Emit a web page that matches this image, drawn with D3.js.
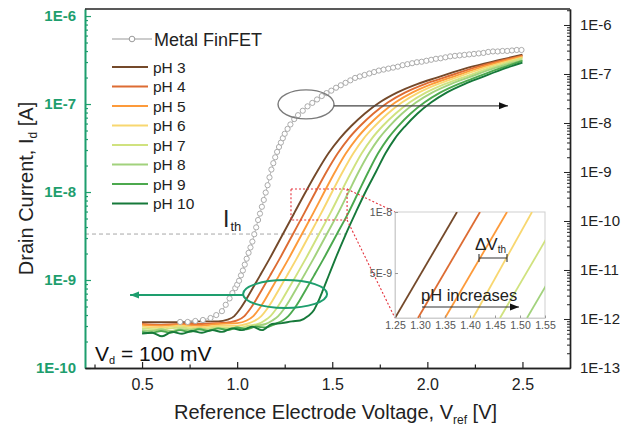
<!DOCTYPE html>
<html>
<head>
<meta charset="utf-8">
<script src="https://cdn.jsdelivr.net/npm/d3@7"></script>
<style>
  body { margin: 0; background: #fff; }
  svg { display: block; font-family: 'Liberation Sans', Arial, sans-serif; }
</style>
</head>
<body>
<svg id="chart" width="622" height="430"></svg>
<script>
// ---- data ----
const phLabels = ['pH 3', 'pH 4', 'pH 5', 'pH 6', 'pH 7', 'pH 8', 'pH 9', 'pH 10'];
const phColors = ['#74492a', '#dd6c33', '#fd9a3a', '#f8d770', '#d0e27f', '#a2d27d', '#4ca94e', '#16793a'];

// V_ref [V] and log10(I_d [A]) for every pH curve (left axis)
const v_pH3 = [0.50, 0.60, 0.70, 0.80, 0.90, 0.95, 0.985, 1.015, 1.045, 1.08, 1.12, 1.17, 1.24, 1.30, 1.36, 1.42, 1.48, 1.54, 1.60, 1.67, 1.75, 1.84, 1.95, 2.05, 2.21, 2.38, 2.50];
const logI_pH3 = [-9.48, -9.48, -9.48, -9.47, -9.47, -9.45, -9.41, -9.33, -9.23, -9.10, -8.95, -8.76, -8.48, -8.24, -8.00, -7.77, -7.56, -7.39, -7.25, -7.11, -6.98, -6.87, -6.77, -6.70, -6.59, -6.50, -6.44];

const v_pH4 = [0.50, 0.60, 0.70, 0.80, 0.90, 0.96, 1.00, 1.038, 1.068, 1.098, 1.133, 1.173, 1.223, 1.293, 1.353, 1.412, 1.470, 1.529, 1.587, 1.646, 1.715, 1.794, 1.882, 1.990, 2.088, 2.243, 2.50];
const logI_pH4 = [-9.50, -9.51, -9.50, -9.50, -9.49, -9.48, -9.46, -9.41, -9.33, -9.23, -9.10, -8.95, -8.76, -8.48, -8.24, -8.00, -7.77, -7.56, -7.39, -7.25, -7.11, -6.98, -6.87, -6.77, -6.70, -6.59, -6.45];

const v_pH5 = [0.50, 0.60, 0.70, 0.80, 0.90, 1.00, 1.05, 1.085, 1.115, 1.145, 1.18, 1.22, 1.27, 1.34, 1.40, 1.458, 1.515, 1.572, 1.629, 1.687, 1.755, 1.833, 1.920, 2.026, 2.121, 2.273, 2.50];
const logI_pH5 = [-9.51, -9.52, -9.51, -9.52, -9.50, -9.49, -9.46, -9.41, -9.33, -9.23, -9.10, -8.95, -8.76, -8.48, -8.24, -8.00, -7.77, -7.56, -7.39, -7.25, -7.11, -6.98, -6.87, -6.77, -6.70, -6.59, -6.46];

const v_pH6 = [0.50, 0.60, 0.70, 0.80, 0.90, 1.00, 1.05, 1.095, 1.127, 1.157, 1.187, 1.222, 1.262, 1.312, 1.382, 1.442, 1.499, 1.555, 1.611, 1.666, 1.724, 1.791, 1.868, 1.954, 2.058, 2.151, 2.299, 2.50];
const logI_pH6 = [-9.53, -9.54, -9.52, -9.54, -9.52, -9.52, -9.50, -9.46, -9.41, -9.33, -9.23, -9.10, -8.95, -8.76, -8.48, -8.24, -8.00, -7.77, -7.56, -7.39, -7.25, -7.11, -6.98, -6.87, -6.77, -6.70, -6.59, -6.47];

const v_pH7 = [0.50, 0.60, 0.70, 0.80, 0.90, 1.00, 1.06, 1.11, 1.145, 1.175, 1.205, 1.235, 1.27, 1.31, 1.36, 1.43, 1.49, 1.546, 1.601, 1.655, 1.709, 1.765, 1.832, 1.908, 1.992, 2.094, 2.185, 2.330, 2.50];
const logI_pH7 = [-9.55, -9.56, -9.54, -9.56, -9.54, -9.55, -9.52, -9.50, -9.46, -9.41, -9.33, -9.23, -9.10, -8.95, -8.76, -8.48, -8.24, -8.00, -7.77, -7.56, -7.39, -7.25, -7.11, -6.98, -6.87, -6.77, -6.70, -6.59, -6.48];

const v_pH8 = [0.50, 0.55, 0.60, 0.65, 0.70, 0.75, 0.80, 0.85, 0.90, 0.95, 1.00, 1.05, 1.10, 1.15, 1.185, 1.216, 1.246, 1.276, 1.311, 1.351, 1.401, 1.471, 1.531, 1.586, 1.639, 1.693, 1.746, 1.801, 1.866, 1.942, 2.025, 2.126, 2.214, 2.356, 2.50];
const logI_pH8 = [-9.57, -9.58, -9.56, -9.58, -9.56, -9.57, -9.55, -9.57, -9.55, -9.56, -9.54, -9.55, -9.52, -9.50, -9.46, -9.41, -9.33, -9.23, -9.10, -8.95, -8.76, -8.48, -8.24, -8.00, -7.77, -7.56, -7.39, -7.25, -7.11, -6.98, -6.87, -6.77, -6.70, -6.59, -6.50];

const v_pH9 = [0.50, 0.55, 0.60, 0.65, 0.70, 0.75, 0.80, 0.85, 0.90, 0.95, 1.00, 1.05, 1.10, 1.15, 1.20, 1.24, 1.269, 1.299, 1.329, 1.364, 1.404, 1.454, 1.524, 1.584, 1.638, 1.690, 1.741, 1.793, 1.847, 1.911, 1.986, 2.067, 2.166, 2.252, 2.389, 2.50];
const logI_pH9 = [-9.59, -9.60, -9.58, -9.60, -9.57, -9.59, -9.56, -9.58, -9.55, -9.57, -9.54, -9.56, -9.53, -9.54, -9.50, -9.46, -9.41, -9.33, -9.23, -9.10, -8.95, -8.76, -8.48, -8.24, -8.00, -7.77, -7.56, -7.39, -7.25, -7.11, -6.98, -6.87, -6.77, -6.70, -6.59, -6.51];

const v_pH10 = [0.50, 0.553, 0.605, 0.658, 0.71, 0.763, 0.815, 0.868, 0.921, 0.973, 1.026, 1.078, 1.131, 1.183, 1.236, 1.288, 1.331, 1.373, 1.404, 1.425, 1.452, 1.483, 1.52, 1.567, 1.626, 1.679, 1.730, 1.780, 1.830, 1.884, 1.947, 2.021, 2.101, 2.198, 2.281, 2.415, 2.50];
const logI_pH10 = [-9.61, -9.60, -9.64, -9.59, -9.61, -9.58, -9.60, -9.57, -9.59, -9.55, -9.57, -9.53, -9.57, -9.50, -9.49, -9.47, -9.46, -9.41, -9.34, -9.25, -9.11, -8.94, -8.74, -8.50, -8.22, -7.98, -7.77, -7.56, -7.39, -7.25, -7.11, -6.98, -6.87, -6.77, -6.70, -6.59, -6.53];

// Metal FinFET (right axis)
const metalV = [0.70, 0.74, 0.78, 0.82, 0.86, 0.89, 0.92, 0.94, 0.96, 0.975, 0.99, 1.00,
  1.01, 1.02, 1.03, 1.04, 1.05, 1.06, 1.07, 1.08, 1.09, 1.10, 1.11, 1.12, 1.13, 1.14, 1.15,
  1.16, 1.17, 1.18, 1.19, 1.20, 1.21, 1.22, 1.23, 1.24, 1.25, 1.265, 1.28, 1.30, 1.32, 1.345,
  1.37, 1.395, 1.42, 1.445, 1.47, 1.495, 1.52, 1.545, 1.57, 1.595, 1.62, 1.645, 1.67, 1.695,
  1.72, 1.745, 1.77, 1.795, 1.82, 1.845, 1.87, 1.895, 1.92, 1.945, 1.97, 1.995, 2.02, 2.045,
  2.07, 2.095, 2.12, 2.145, 2.17, 2.195, 2.22, 2.245, 2.27, 2.295, 2.32, 2.345, 2.37, 2.395,
  2.42, 2.445, 2.47, 2.495];
const metalLogI = [-12.06, -12.06, -12.04, -12.02, -11.98, -11.92, -11.84, -11.71, -11.58, -11.47, -11.37, -11.30,
  -11.22, -11.11, -11.01, -10.89, -10.77, -10.65, -10.54, -10.42, -10.27, -10.13, -9.98, -9.85, -9.71, -9.57, -9.42,
  -9.27, -9.11, -8.95, -8.82, -8.70, -8.59, -8.49, -8.40, -8.31, -8.22, -8.12, -8.03, -7.92, -7.84, -7.75,
  -7.66, -7.59, -7.52, -7.45, -7.39, -7.34, -7.28, -7.23, -7.18, -7.13, -7.08, -7.05, -7.02, -6.99,
  -6.96, -6.93, -6.91, -6.89, -6.87, -6.85, -6.82, -6.80, -6.78, -6.76, -6.75, -6.73, -6.71, -6.69,
  -6.68, -6.66, -6.64, -6.63, -6.62, -6.61, -6.60, -6.59, -6.58, -6.57, -6.55, -6.54, -6.54, -6.53,
  -6.53, -6.52, -6.51, -6.51];

// inset: V where each pH line crosses the bottom (3E-9) and top (1E-8) of the inset
const insetVStart = [1.250, 1.296, 1.350, 1.406, 1.460, 1.514, 1.568, 1.622];
const insetVEnd = [1.374, 1.420, 1.474, 1.524, 1.584, 1.638, 1.692, 1.746];
const insetIRange = [3e-9, 1e-8];
const insetTicksX = [1.25, 1.30, 1.35, 1.40, 1.45, 1.50, 1.55];
const insetTicksY = [5e-9, 1e-8];

const xTicks = [0.5, 1.0, 1.5, 2.0, 2.5];
const xMinorTicks = [0.25, 0.75, 1.25, 1.75, 2.25];
const leftDecades = [1e-10, 1e-9, 1e-8, 1e-7, 1e-6];
const rightDecades = [1e-13, 1e-12, 1e-11, 1e-10, 1e-9, 1e-8, 1e-7, 1e-6];

// Ith level and the annotation anchors, in data units
const Ith = 3.33e-9;
const IthEndV = 1.567;
const zoomBox = { v0: 1.283, v1: 1.578, i0: 4.8e-9, i1: 1.08e-8 };
const grayEllipse = { v: 1.362, i: 2.4e-8, arrowV: 2.424 };
const greenEllipse = { v: 1.252, i: 6.93e-10, arrowV: 0.437 };

// ---- layout ----
const W = 622, H = 430;
const M = { l: 85, r: 570, t: 9, b: 368 };
const GREEN = '#1e9e6e';

const svg = d3.select('#chart');
svg.append('rect').attr('width', W).attr('height', H).attr('fill', '#fff');

const x = d3.scaleLinear().domain([0.2, 2.75]).range([M.l, M.r]);
const yL = d3.scaleLog().domain([1e-10, 1.202e-6]).range([M.b, M.t]);
const yR = d3.scaleLog().domain([1e-13, 2.12e-6]).range([M.b, M.t]);

const defs = svg.append('defs');
function marker(id, color) {
  defs.append('marker').attr('id', id)
    .attr('markerUnits', 'userSpaceOnUse')
    .attr('markerWidth', 10).attr('markerHeight', 8)
    .attr('refX', 9).attr('refY', 4).attr('orient', 'auto')
    .append('path').attr('d', 'M0,0.5 L9,4 L0,7.5 Z').attr('fill', color);
}
marker('arrK', '#111');
marker('arrG', GREEN);

const series = phLabels.map((label, i) => {
  const v = [v_pH3, v_pH4, v_pH5, v_pH6, v_pH7, v_pH8, v_pH9, v_pH10][i];
  const lg = [logI_pH3, logI_pH4, logI_pH5, logI_pH6, logI_pH7, logI_pH8, logI_pH9, logI_pH10][i];
  return { label, color: phColors[i], pts: v.map((d, k) => [d, Math.pow(10, lg[k])]) };
});
const metal = metalV.map((d, k) => [d, Math.pow(10, metalLogI[k])]);

// Ith dashed line
svg.append('line')
  .attr('x1', x(0.2)).attr('x2', x(IthEndV))
  .attr('y1', yL(Ith)).attr('y2', yL(Ith))
  .attr('stroke', '#a8a8a8').attr('stroke-width', 1).attr('stroke-dasharray', '4,3');

// pH curves
const lineL = d3.line().curve(d3.curveMonotoneX).x(d => x(d[0])).y(d => yL(d[1]));
svg.append('g').selectAll('path').data(series).join('path')
  .attr('d', d => lineL(d.pts))
  .attr('fill', 'none').attr('stroke', d => d.color).attr('stroke-width', 1.9);

// Metal FinFET
const lineR = d3.line().x(d => x(d[0])).y(d => yR(d[1]));
svg.append('path').attr('d', lineR(metal))
  .attr('fill', 'none').attr('stroke', '#b0b0b0').attr('stroke-width', 0.9);
svg.append('g').selectAll('circle').data(metal).join('circle')
  .attr('cx', d => x(d[0])).attr('cy', d => yR(d[1])).attr('r', 2.6)
  .attr('fill', '#fff').attr('stroke', '#a2a2a2').attr('stroke-width', 0.9);

// ellipses + arrows
const gx = x(grayEllipse.v), gy = yR(grayEllipse.i);
svg.append('ellipse').attr('cx', gx).attr('cy', gy).attr('rx', 28).attr('ry', 14.5)
  .attr('fill', 'none').attr('stroke', '#7a7a7a').attr('stroke-width', 1.4);
svg.append('line').attr('x1', gx + 28).attr('y1', gy + 1.5).attr('x2', x(grayEllipse.arrowV)).attr('y2', gy + 1.5)
  .attr('stroke', '#444').attr('stroke-width', 1.1).attr('marker-end', 'url(#arrK)');

const ex = x(greenEllipse.v), ey = yL(greenEllipse.i);
svg.append('ellipse').attr('cx', ex).attr('cy', ey).attr('rx', 42).attr('ry', 14)
  .attr('fill', 'none').attr('stroke', GREEN).attr('stroke-width', 2);
svg.append('line').attr('x1', ex - 42).attr('y1', ey + 1).attr('x2', x(greenEllipse.arrowV)).attr('y2', ey + 1)
  .attr('stroke', GREEN).attr('stroke-width', 2).attr('marker-end', 'url(#arrG)');

// zoom box
const RED = '#e5323c';
const bx0 = x(zoomBox.v0), bx1 = x(zoomBox.v1), by0 = yL(zoomBox.i1), by1 = yL(zoomBox.i0);
svg.append('rect').attr('x', bx0).attr('y', by0).attr('width', bx1 - bx0).attr('height', by1 - by0)
  .attr('fill', 'none').attr('stroke', RED).attr('stroke-width', 1.1).attr('stroke-dasharray', '2,2');

// inset
const ix = d3.scaleLinear().domain([1.25, 1.55]).range([395, 545]);
const iy = d3.scaleLog().domain(insetIRange).range([318, 212]);
svg.append('line').attr('x1', bx1).attr('y1', by0).attr('x2', ix(1.25)).attr('y2', iy(1e-8))
  .attr('stroke', RED).attr('stroke-width', 1.1).attr('stroke-dasharray', '2,2');
svg.append('line').attr('x1', bx1).attr('y1', by1).attr('x2', ix(1.25)).attr('y2', iy(3e-9))
  .attr('stroke', RED).attr('stroke-width', 1.1).attr('stroke-dasharray', '2,2');

const inset = svg.append('g');
inset.append('rect').attr('x', 395).attr('y', 212).attr('width', 150).attr('height', 106)
  .attr('fill', '#fff').attr('stroke', '#cfcfcf').attr('stroke-width', 1);
defs.append('clipPath').attr('id', 'insetClip')
  .append('rect').attr('x', 395).attr('y', 212).attr('width', 150).attr('height', 106);
inset.append('g').attr('clip-path', 'url(#insetClip)')
  .selectAll('line').data(phColors).join('line')
  .attr('x1', (c, i) => ix(insetVStart[i])).attr('y1', iy(insetIRange[0]))
  .attr('x2', (c, i) => ix(insetVEnd[i])).attr('y2', iy(insetIRange[1]))
  .attr('stroke', c => c).attr('stroke-width', 1.8);

const insetAxL = inset.append('g').attr('transform', 'translate(395,0)')
  .call(d3.axisLeft(iy).tickValues(insetTicksY).tickFormat(d => d === 1e-8 ? '1E-8' : '5E-9')
    .tickSize(-3).tickSizeOuter(0).tickPadding(3));
const insetAxB = inset.append('g').attr('transform', 'translate(0,318)')
  .call(d3.axisBottom(ix).tickValues(insetTicksX).tickFormat(d3.format('.2f'))
    .tickSize(-2.5).tickSizeOuter(0).tickPadding(4));
[insetAxL, insetAxB].forEach(g => {
  g.select('.domain').attr('stroke', '#cfcfcf');
  g.selectAll('.tick line').attr('stroke', '#999');
  g.selectAll('text').attr('fill', '#555').attr('font-size', 10.5)
    .attr('font-family', "'Liberation Sans', Arial, sans-serif");
});

// delta Vth
const dv = inset.append('text').attr('x', 475).attr('y', 250).attr('font-size', 17).attr('fill', '#222');
dv.append('tspan').text('ΔV');
dv.append('tspan').attr('font-size', 10).attr('dy', 3).text('th');
const bl = ix(1.418), br = ix(1.474);
inset.append('path')
  .attr('d', `M${bl},254V262M${bl},258H${br}M${br},254V262`)
  .attr('fill', 'none').attr('stroke', '#333').attr('stroke-width', 1.1);

inset.append('text').attr('x', 421).attr('y', 301).attr('font-size', 16.5).attr('fill', '#222').text('pH increases');
inset.append('line').attr('x1', 422).attr('y1', 307).attr('x2', 519).attr('y2', 307)
  .attr('stroke', '#333').attr('stroke-width', 1.1).attr('marker-end', 'url(#arrK)');

// Ith label
const ith = svg.append('text').attr('x', 223).attr('y', 227).attr('font-size', 23).attr('fill', '#222');
ith.append('tspan').text('I');
ith.append('tspan').attr('font-size', 13).attr('dy', 4).attr('dx', 1).text('th');

// Vd label
const vd = svg.append('text').attr('x', 95).attr('y', 361).attr('font-size', 21).attr('fill', '#111');
vd.append('tspan').text('V');
vd.append('tspan').attr('font-size', 11).attr('dy', 3).text('d');
vd.append('tspan').attr('dy', -3).text(' = 100 mV');

// ---- axes ----
const fmtE = d => '1E' + Math.round(Math.log10(d));
const minorOf = (decades, scale) => {
  const [lo, hi] = scale.domain();
  const out = [];
  decades.concat([decades[decades.length - 1] * 10]).forEach(dec => {
    for (let m = 2; m <= 9; m++) { const v = m * dec; if (v > lo && v < hi) out.push(v); }
  });
  return out;
};

const axL = svg.append('g').attr('transform', `translate(${M.l},0)`)
  .call(d3.axisLeft(yL).tickValues(leftDecades).tickFormat(fmtE).tickSize(-6).tickSizeOuter(0).tickPadding(9));
const axLm = svg.append('g').attr('transform', `translate(${M.l},0)`)
  .call(d3.axisLeft(yL).tickValues(minorOf(leftDecades.slice(0, -1), yL)).tickFormat('').tickSize(-3).tickSizeOuter(0));
[axL, axLm].forEach(g => {
  g.select('.domain').attr('stroke', GREEN).attr('stroke-width', 1.6);
  g.selectAll('.tick line').attr('stroke', GREEN).attr('stroke-width', 1.2);
});
axL.selectAll('text').attr('fill', GREEN).attr('font-size', 15).attr('font-weight', 'bold')
  .attr('font-family', "'Liberation Sans', Arial, sans-serif");

const axR = svg.append('g').attr('transform', `translate(${M.r},0)`)
  .call(d3.axisRight(yR).tickValues(rightDecades).tickFormat(fmtE).tickSize(-6).tickSizeOuter(0).tickPadding(10));
const axRm = svg.append('g').attr('transform', `translate(${M.r},0)`)
  .call(d3.axisRight(yR).tickValues(minorOf(rightDecades.slice(0, -1), yR)).tickFormat('').tickSize(-3).tickSizeOuter(0));
[axR, axRm].forEach(g => {
  g.select('.domain').attr('stroke', '#222').attr('stroke-width', 1.4);
  g.selectAll('.tick line').attr('stroke', '#222').attr('stroke-width', 1);
});
axR.selectAll('text').attr('fill', '#222').attr('font-size', 15)
  .attr('font-family', "'Liberation Sans', Arial, sans-serif");

const axB = svg.append('g').attr('transform', `translate(0,${M.b})`)
  .call(d3.axisBottom(x).tickValues(xTicks).tickFormat(d3.format('.1f')).tickSize(-6).tickSizeOuter(0).tickPadding(11));
const axBm = svg.append('g').attr('transform', `translate(0,${M.b})`)
  .call(d3.axisBottom(x).tickValues(xMinorTicks).tickFormat('').tickSize(-3.5).tickSizeOuter(0));
[axB, axBm].forEach(g => {
  g.select('.domain').attr('stroke', '#222').attr('stroke-width', 1.5);
  g.selectAll('.tick line').attr('stroke', '#222').attr('stroke-width', 1.2);
});
axB.selectAll('text').attr('fill', '#222').attr('font-size', 16)
  .attr('font-family', "'Liberation Sans', Arial, sans-serif");

svg.append('line').attr('x1', M.l).attr('x2', M.r).attr('y1', M.t).attr('y2', M.t)
  .attr('stroke', '#222').attr('stroke-width', 1.4);

// axis titles
const yt = svg.append('text').attr('transform', `translate(33,${(M.t + M.b) / 2}) rotate(-90)`)
  .attr('text-anchor', 'middle').attr('font-size', 20).attr('fill', '#222');
yt.append('tspan').text('Drain Current, I');
yt.append('tspan').attr('font-size', 12).attr('dy', 4).text('d');
yt.append('tspan').attr('dy', -4).text(' [A]');

const xt = svg.append('text').attr('x', (M.l + M.r) / 2 + 8).attr('y', 419)
  .attr('text-anchor', 'middle').attr('font-size', 20).attr('fill', '#222');
xt.append('tspan').text('Reference Electrode Voltage, V');
xt.append('tspan').attr('font-size', 12).attr('dy', 5).text('ref');
xt.append('tspan').attr('dy', -5).text(' [V]');

// ---- legend ----
const lg = svg.append('g');
lg.append('line').attr('x1', 112).attr('x2', 152).attr('y1', 39).attr('y2', 39)
  .attr('stroke', '#9a9a9a').attr('stroke-width', 1.2);
lg.append('circle').attr('cx', 132).attr('cy', 39).attr('r', 2.8)
  .attr('fill', '#fff').attr('stroke', '#9a9a9a').attr('stroke-width', 1);
lg.append('text').attr('x', 154).attr('y', 45.5).attr('font-size', 18).attr('fill', '#222').text('Metal FinFET');

const rows = lg.selectAll('g.row').data(series).join('g').attr('class', 'row')
  .attr('transform', (d, i) => `translate(0,${67 + i * 19.5})`);
rows.append('line').attr('x1', 112).attr('x2', 148)
  .attr('stroke', d => d.color).attr('stroke-width', 2.2);
rows.append('text').attr('x', 153).attr('y', 5.5).attr('font-size', 15.5).attr('fill', '#222').text(d => d.label);
</script>
</body>
</html>
